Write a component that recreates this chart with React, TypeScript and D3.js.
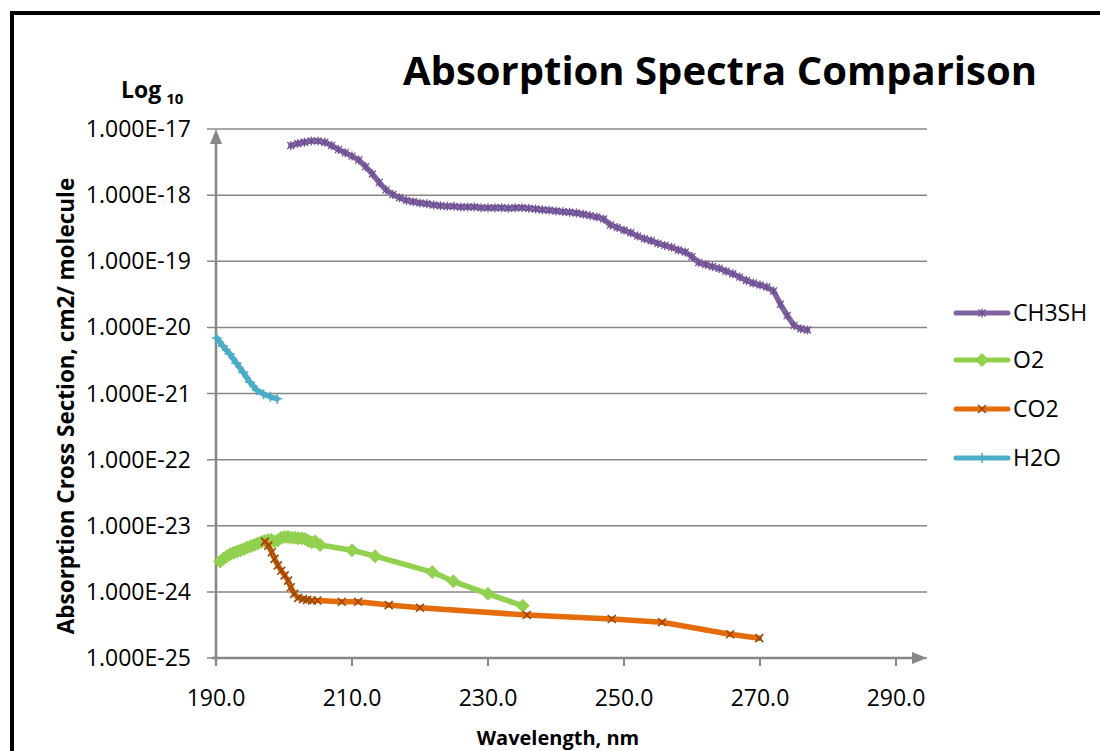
import * as d3 from "d3";

// wavelength (nm) and log10 of cross section (cm2/molecule)
const ch3shNm = [201, 202, 203, 204, 205, 206, 207, 208, 209, 210, 211, 212, 213, 214, 215, 216, 217, 218, 219, 220, 221, 222, 223, 224, 225, 226, 227, 228, 229, 230, 231, 232, 233, 234, 235, 236, 237, 238, 239, 240, 241, 242, 243, 244, 245, 246, 247, 248, 249, 250, 251, 252, 253, 254, 255, 256, 257, 258, 259, 260, 261, 262, 263, 264, 265, 266, 267, 268, 269, 270, 271, 272, 273, 274, 275, 276, 277];
const ch3shLog = [-17.25, -17.22, -17.2, -17.18, -17.18, -17.2, -17.25, -17.31, -17.36, -17.41, -17.47, -17.57, -17.68, -17.81, -17.92, -17.99, -18.04, -18.08, -18.1, -18.12, -18.13, -18.15, -18.16, -18.17, -18.17, -18.18, -18.18, -18.18, -18.19, -18.19, -18.19, -18.19, -18.2, -18.19, -18.19, -18.2, -18.21, -18.22, -18.23, -18.24, -18.25, -18.26, -18.27, -18.29, -18.31, -18.33, -18.36, -18.45, -18.49, -18.53, -18.57, -18.62, -18.66, -18.69, -18.73, -18.76, -18.79, -18.83, -18.86, -18.93, -19.02, -19.05, -19.08, -19.11, -19.15, -19.19, -19.24, -19.29, -19.33, -19.36, -19.39, -19.45, -19.65, -19.82, -19.97, -20.02, -20.04];

const o2Nm = [190.6, 191.1, 191.6, 192.1, 192.6, 193.1, 193.6, 194.1, 194.6, 195.1, 195.6, 196.1, 196.6, 197.1, 197.6, 198.1, 198.6, 199.1, 199.6, 200.1, 200.6, 201.1, 201.6, 202.1, 202.6, 203.1, 203.6, 204.1, 204.6, 205.3, 210.0, 213.4, 221.8, 224.9, 230.0, 235.1];
const o2Log = [-23.54, -23.5, -23.46, -23.43, -23.41, -23.39, -23.37, -23.35, -23.33, -23.31, -23.29, -23.27, -23.25, -23.23, -23.22, -23.21, -23.24, -23.22, -23.18, -23.17, -23.17, -23.18, -23.18, -23.19, -23.19, -23.2, -23.23, -23.25, -23.24, -23.29, -23.37, -23.46, -23.7, -23.84, -24.03, -24.21];

const co2Nm = [197.2, 197.7, 198.2, 198.6, 199.1, 199.6, 200.1, 200.6, 201.0, 201.5, 202.1, 202.8, 203.4, 204.1, 204.9, 208.5, 210.9, 215.4, 220.0, 235.7, 248.2, 255.6, 265.6, 269.9];
const co2Log = [-23.24, -23.3, -23.4, -23.5, -23.6, -23.68, -23.75, -23.83, -23.93, -24.03, -24.09, -24.11, -24.12, -24.13, -24.13, -24.15, -24.15, -24.2, -24.24, -24.35, -24.41, -24.46, -24.64, -24.7];

const h2oNm = [190.1, 191, 192, 193, 194, 195, 196, 197, 198, 199];
const h2oLog = [-20.16, -20.28, -20.4, -20.54, -20.68, -20.83, -20.95, -21.01, -21.05, -21.08];

const xTicks = [190, 210, 230, 250, 270, 290];
const yTicks = [1e-17, 1e-18, 1e-19, 1e-20, 1e-21, 1e-22, 1e-23, 1e-24, 1e-25];

const FONT = "'Open Sans', sans-serif";
const AXIS = "#878787";

type Pt = { x: number; y: number };
const zip = (nm: number[], lg: number[]): Pt[] => nm.map((x, i) => ({ x, y: Math.pow(10, lg[i]) }));

const series = [
  { name: "CH3SH", data: zip(ch3shNm, ch3shLog), color: "#8064A2", mark: "#6F5193", marker: "star" },
  { name: "O2", data: zip(o2Nm, o2Log), color: "#92D050", mark: "#92D050", marker: "diamond" },
  { name: "CO2", data: zip(co2Nm, co2Log), color: "#E46C0A", mark: "#984807", marker: "x" },
  { name: "H2O", data: zip(h2oNm, h2oLog), color: "#4BACC6", mark: "#4BACC6", marker: "plus" },
];

function Marker({ kind, x, y, color }: { kind: string; x: number; y: number; color: string }) {
  if (kind === "diamond") {
    return <path d={`M${x},${y - 7}L${x + 7},${y}L${x},${y + 7}L${x - 7},${y}Z`} fill={color} />;
  }
  if (kind === "x") {
    return <path d={`M${x - 4},${y - 4}L${x + 4},${y + 4}M${x - 4},${y + 4}L${x + 4},${y - 4}`} stroke={color} strokeWidth={1.6} />;
  }
  if (kind === "plus") {
    return <path d={`M${x - 5},${y}L${x + 5},${y}M${x},${y - 5}L${x},${y + 5}`} stroke={color} strokeWidth={1.6} />;
  }
  return (
    <path
      d={`M${x - 3.5},${y - 3.5}L${x + 3.5},${y + 3.5}M${x - 3.5},${y + 3.5}L${x + 3.5},${y - 3.5}M${x},${y - 4.5}L${x},${y + 4.5}`}
      stroke={color}
      strokeWidth={1.3}
    />
  );
}

export default function App() {
  const width = 1100;
  const height = 751;
  const x = d3.scaleLinear().domain([190, 290]).range([216, 896]);
  const y = d3.scaleLog().domain([1e-25, 1e-17]).range([658, 129]);
  const xEnd = 927;

  const line = d3
    .line<Pt>()
    .x((d) => x(d.x))
    .y((d) => y(d.y));

  const legendY = [313, 360, 409, 458];

  return (
    <svg width={width} height={height} style={{ position: "absolute", left: 0, top: 0, background: "#fff" }}>
      <rect x={12} y={13} width={1200} height={900} fill="#fff" stroke="#000" strokeWidth={4} />

      <text x={720} y={85} textAnchor="middle" fontFamily={FONT} fontWeight="bold" fontSize={40}>
        Absorption Spectra Comparison
      </text>
      <text x={121} y={98} fontFamily={FONT} fontWeight="bold" fontSize={23}>
        Log<tspan fontSize={15} dx={5} dy={6}>10</tspan>
      </text>

      {/* gridlines */}
      {yTicks.map((t) => (
        <g key={t}>
          <line x1={207} x2={xEnd} y1={y(t)} y2={y(t)} stroke={AXIS} strokeWidth={1.5} />
          <text x={191} y={y(t) + 8} textAnchor="end" fontFamily={FONT} fontSize={23}>
            {t.toExponential(3).toUpperCase()}
          </text>
        </g>
      ))}

      {/* axes */}
      <line x1={216} x2={216} y1={662} y2={142} stroke={AXIS} strokeWidth={2.5} />
      <path d="M216,129L222,144L210,144Z" fill={AXIS} />
      <line x1={212} x2={xEnd - 12} y1={658} y2={658} stroke={AXIS} strokeWidth={2.5} />
      <path d={`M${xEnd},658L${xEnd - 15},652L${xEnd - 15},664Z`} fill={AXIS} />
      {xTicks.map((t) => (
        <g key={t}>
          <line x1={x(t)} x2={x(t)} y1={658} y2={666} stroke={AXIS} strokeWidth={2} />
          <text x={x(t)} y={706} textAnchor="middle" fontFamily={FONT} fontSize={23}>
            {t.toFixed(1)}
          </text>
        </g>
      ))}

      <text
        transform="translate(74,406) rotate(-90)"
        textAnchor="middle"
        fontFamily={FONT}
        fontWeight="bold"
        fontSize={22.5}
      >
        Absorption Cross Section, cm2/ molecule
      </text>
      <text x={558} y={745} textAnchor="middle" fontFamily={FONT} fontWeight="bold" fontSize={20}>
        Wavelength, nm
      </text>

      {/* series */}
      {series.map((s) => (
        <g key={s.name}>
          <path d={line(s.data) || ""} fill="none" stroke={s.color} strokeWidth={5.5} strokeLinejoin="round" strokeLinecap="round" />
          {s.data.map((d, i) => (
            <Marker key={i} kind={s.marker} x={x(d.x)} y={y(d.y)} color={s.mark} />
          ))}
        </g>
      ))}

      {/* legend */}
      {series.map((s, i) => (
        <g key={s.name}>
          <line x1={956} x2={1008} y1={legendY[i]} y2={legendY[i]} stroke={s.color} strokeWidth={5} strokeLinecap="round" />
          <Marker kind={s.marker} x={982} y={legendY[i]} color={s.mark} />
          <text x={1013} y={legendY[i] + 8} fontFamily={FONT} fontSize={23}>
            {s.name}
          </text>
        </g>
      ))}
    </svg>
  );
}
